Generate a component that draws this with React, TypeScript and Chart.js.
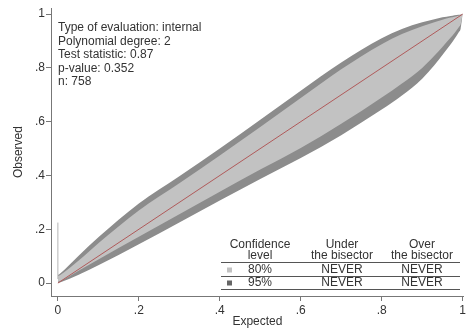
import React, { useEffect, useRef } from "react";
import { Chart, registerables } from "chart.js";

Chart.register(...registerables);

// Expected probability grid shared by all band edges
const expected = [0, 0.005, 0.05, 0.1, 0.2, 0.3, 0.4, 0.5, 0.6, 0.7, 0.8, 0.85, 0.9, 0.93, 0.95, 0.97, 0.98, 0.99, 0.995, 1];

// 95% confidence band
const upper95 = [0.03, 0.035, 0.1, 0.17, 0.296, 0.397, 0.5, 0.607, 0.715, 0.82, 0.91, 0.945, 0.97, 0.981, 0.988, 0.993, 0.996, 0.998, 0.999, 1];
const lower95 = [0.0, 0.002, 0.03, 0.066, 0.144, 0.225, 0.307, 0.387, 0.465, 0.55, 0.645, 0.697, 0.76, 0.81, 0.848, 0.887, 0.908, 0.932, 0.946, 1];

// 80% confidence band
const upper80 = [0.025, 0.029, 0.082, 0.148, 0.27, 0.371, 0.474, 0.58, 0.688, 0.795, 0.888, 0.926, 0.955, 0.97, 0.979, 0.987, 0.99, 0.994, 0.996, 1];
const lower80 = [0.005, 0.007, 0.045, 0.088, 0.172, 0.256, 0.34, 0.422, 0.502, 0.592, 0.69, 0.742, 0.8, 0.845, 0.878, 0.912, 0.93, 0.95, 0.962, 1];

// Spike of the band at the boundary x = 0
const spikeX = [0, 0];
const spikeY = [0.015, 0.225];

// Bisector
const bisectorX = [0, 1];
const bisectorY = [0, 1];

const xTicks = [0, 0.2, 0.4, 0.6, 0.8, 1];
const yTicks = [0, 0.2, 0.4, 0.6, 0.8, 1];

const statsLines = [
  "Type of evaluation: internal",
  "Polynomial degree: 2",
  "Test statistic: 0.87",
  "p-value: 0.352",
  "n: 758",
];

const tableHeader1 = ["Confidence", "Under", "Over"];
const tableHeader2 = ["level", "the bisector", "the bisector"];
const confLevels = ["80%", "95%"];
const underBisector = ["NEVER", "NEVER"];
const overBisector = ["NEVER", "NEVER"];

const LIGHT = "#c2c2c2";
const DARK = "#8c8c8c";
const TEXT = "#333333";
const FONT = "'Liberation Sans', Arial, sans-serif";

const pts = (xs: number[], ys: number[]) => xs.map((x, i) => ({ x, y: ys[i] }));

const fmt = (v: number) => {
  if (v === 0) return "0";
  if (v === 1) return "1";
  return String(Math.round(v * 10) / 10).replace(/^0/, "");
};

const annotations = {
  id: "annotations",
  afterDraw(chart: any) {
    const ctx = chart.ctx as CanvasRenderingContext2D;
    ctx.save();
    ctx.fillStyle = TEXT;
    ctx.font = `12px ${FONT}`;
    ctx.textBaseline = "middle";
    ctx.textAlign = "left";
    statsLines.forEach((s, i) => ctx.fillText(s, 58, 28 + i * 13.5));

    // Summary table
    const cols = [260, 342, 422];
    ctx.textAlign = "center";
    tableHeader1.forEach((s, i) => ctx.fillText(s, cols[i], 245));
    tableHeader2.forEach((s, i) => ctx.fillText(s, cols[i], 256));
    const rows = [270, 283];
    confLevels.forEach((s, i) => {
      ctx.fillStyle = TEXT;
      ctx.fillText(s, cols[0], rows[i]);
      ctx.fillText(underBisector[i], cols[1], rows[i]);
      ctx.fillText(overBisector[i], cols[2], rows[i]);
      ctx.fillStyle = i === 0 ? LIGHT : "#666666";
      ctx.fillRect(227, rows[i] - 2.5, 5, 5);
    });
    ctx.strokeStyle = "#555555";
    ctx.lineWidth = 1;
    [262.5, 276.5, 289.5].forEach((y) => {
      ctx.beginPath();
      ctx.moveTo(221, y);
      ctx.lineTo(460, y);
      ctx.stroke();
    });
    ctx.restore();
  },
};

export default function App() {
  const ref = useRef<HTMLCanvasElement>(null);

  useEffect(() => {
    const band = {
      pointRadius: 0,
      borderWidth: 0,
      cubicInterpolationMode: "monotone" as const,
    };
    const chart = new Chart(ref.current!, {
      type: "line",
      data: {
        datasets: [
          {
            label: "Bisector",
            data: pts(bisectorX, bisectorY),
            borderColor: "#b05a5a",
            borderWidth: 1,
            pointRadius: 0,
            fill: false,
          },
          {
            label: "Boundary",
            data: pts(spikeX, spikeY),
            borderColor: "#b4b4b4",
            borderWidth: 1,
            pointRadius: 0,
            fill: false,
          },
          { label: "80% lower", data: pts(expected, lower80), ...band, fill: false },
          {
            label: "80% upper",
            data: pts(expected, upper80),
            ...band,
            backgroundColor: LIGHT,
            fill: 2,
          },
          { label: "95% lower", data: pts(expected, lower95), ...band, fill: false },
          {
            label: "95% upper",
            data: pts(expected, upper95),
            ...band,
            backgroundColor: DARK,
            fill: 4,
          },
        ],
      },
      options: {
        responsive: false,
        animation: false,
        layout: { padding: { top: 7, right: 3, left: 0, bottom: 0 } },
        plugins: { legend: { display: false }, tooltip: { enabled: false } },
        scales: {
          x: {
            type: "linear",
            min: -0.017,
            max: 1.003,
            afterBuildTicks: (s: any) => {
              s.ticks = xTicks.map((v) => ({ value: v }));
            },
            afterFit: (s: any) => {
              s.height = 34;
            },
            grid: { drawOnChartArea: false, drawTicks: true, tickLength: 5, color: "#777" },
            border: { display: true, color: "#777", width: 1 },
            ticks: {
              callback: (v: any) => fmt(Number(v)),
              color: TEXT,
              font: { family: FONT, size: 12 },
              padding: 2,
              maxRotation: 0,
              autoSkip: false,
            },
            title: {
              display: true,
              text: "Expected",
              color: TEXT,
              font: { family: FONT, size: 12 },
              padding: { top: 0, bottom: 1 },
            },
          },
          y: {
            type: "linear",
            min: -0.048,
            max: 1.022,
            afterBuildTicks: (s: any) => {
              s.ticks = yTicks.map((v) => ({ value: v }));
            },
            afterFit: (s: any) => {
              s.width = 51;
            },
            grid: { drawOnChartArea: false, drawTicks: true, tickLength: 5, color: "#777" },
            border: { display: true, color: "#777", width: 1 },
            ticks: {
              callback: (v: any) => fmt(Number(v)),
              color: TEXT,
              font: { family: FONT, size: 12 },
              padding: 1,
              autoSkip: false,
            },
            title: {
              display: true,
              text: "Observed",
              color: TEXT,
              font: { family: FONT, size: 12 },
              padding: { top: 11, bottom: 0 },
            },
          },
        },
      },
      plugins: [annotations],
    });
    return () => chart.destroy();
  }, []);

  return (
    <div style={{ position: "absolute", left: 0, top: 0, width: 468, height: 330, background: "#fff" }}>
      <canvas ref={ref} width={468} height={330} />
    </div>
  );
}
